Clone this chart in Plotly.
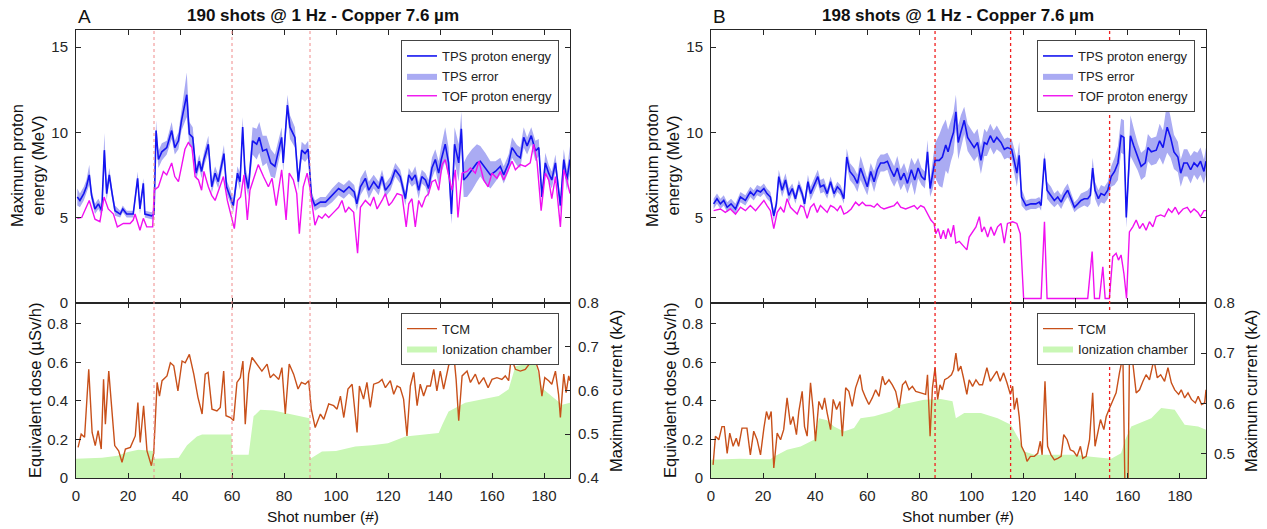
import plotly.graph_objects as go

# ---------------- data ----------------
X_TICKS = [0, 20, 40, 60, 80, 100, 120, 140, 160, 180]
E_TICKS = [0, 5, 10, 15]
DOSE_TICKS = [0, 0.2, 0.4, 0.6, 0.8]
CUR_TICKS_A = [0.4, 0.5, 0.6, 0.7, 0.8]
CUR_TICKS_B = [0.5, 0.6, 0.7, 0.8]
MARKERS_A = [30, 60, 90]
MARKERS_B = [86, 115, 153]
TITLE_A = "190 shots @ 1 Hz - Copper 7.6 µm"
TITLE_B = "198 shots @ 1 Hz - Copper 7.6 µm"

# (shot, TPS energy MeV, TPS error MeV)
TPS_A = [(0.5,6.2,0.5),(1.5,6.0,0.4),(3,6.4,0.4),(4,6.8,0.4),(5.1,7.5,0.6),(6,6.3,0.3),(7.3,5.5,0.3),(8.6,5.8,0.3),(9.9,5.4,0.3),(10.9,8.95,1.0),(11.8,6.4,0.4),(12.8,7.5,0.4),(14,6.3,0.3),(15,5.4,0.3),(17,5.2,0.2),(18,5.5,0.2),(19.5,5.2,0.2),(22,5.2,0.2),(23.7,7.3,0.4),(24.6,5.5,0.3),(25.9,7.0,0.3),(26.5,5.2,0.2),(29.1,5.1,0.2),(30,5.2,0.3),(30.8,10.1,0.6),(31.7,8.4,0.5),(33,8.85,0.5),(34.9,9.1,0.4),(36.8,10.1,0.5),(38,9.1,0.4),(39.4,9.5,0.5),(40.6,10.7,0.6),(42.6,12.2,1.3),(43.6,9.9,0.7),(44.9,9.7,0.6),(46.2,7.6,0.4),(47.4,8.3,0.4),(48.3,7.7,0.4),(49.2,8.4,0.4),(50.9,9.3,0.5),(52.2,6.8,0.4),(53.5,7.6,0.4),(54.7,7.1,0.4),(56.9,8.75,0.5),(57.9,6.8,0.4),(59.2,6.3,0.4),(60.5,5.7,0.4),(62.1,7.6,0.4),(63.1,7.1,0.5),(64.1,10.3,0.6),(65,7.6,0.5),(66.3,6.7,0.5),(67.9,9.5,0.8),(69.5,9.3,0.9),(70.5,9.7,0.9),(71.8,8.9,0.9),(73.3,9.0,0.8),(74.9,8.2,0.8),(76.5,8.0,0.7),(79.1,9.7,0.6),(79.7,8.2,0.5),(81.3,11.6,0.6),(82.3,10.3,0.7),(84.2,9.7,0.6),(85.5,7.1,0.5),(86.8,8.95,0.5),(88.1,8.75,0.5),(89.3,9.0,0.5),(90.6,6.2,0.3),(91.9,5.7,0.3),(94,5.9,0.3),(96,5.9,0.3),(98.5,6.3,0.4),(101,6.7,0.4),(103,6.5,0.4),(105,6.8,0.4),(107,6.5,0.4),(108,5.8,0.4),(109.4,6.8,0.5),(111.3,7.3,0.5),(112.6,6.6,0.5),(114.5,7.1,0.4),(116.4,6.7,0.4),(117.7,7.4,0.4),(119,6.6,0.4),(121,7.0,0.4),(122.8,7.8,0.4),(124.7,7.4,0.4),(126.7,6.1,0.4),(128,7.5,0.4),(129.2,7.2,0.4),(130.5,7.5,0.5),(131.8,6.6,0.5),(133,7.4,0.4),(134.4,7.2,0.4),(135.6,6.7,0.5),(136.9,7.9,0.6),(138.2,8.4,0.6),(139.5,7.6,0.7),(140.5,8.4,0.8),(142,9.3,1.0),(143.3,8.2,0.9),(144.4,5.2,0.6),(145.6,9.3,1.0),(147.2,8.2,1.1),(148.2,10.2,1.0),(149.1,7.2,1.0),(150.4,7.4,1.2),(152.3,7.8,1.2),(154.2,8.2,1.1),(155.5,8.3,0.9),(157.4,7.9,0.9),(159.4,7.5,0.8),(161.3,7.7,0.6),(163.2,8.0,0.5),(164.5,7.5,0.5),(166.4,8.2,0.5),(167.7,9.1,0.6),(169.6,8.65,0.6),(170.9,8.5,0.6),(172.2,9.7,0.6),(173.5,9.2,0.5),(175.1,9.8,0.5),(176.7,8.9,0.6),(178,9.1,0.5),(179.2,6.2,0.4),(180.5,8.2,0.6),(181.8,7.6,0.5),(183,7.2,0.5),(184.4,8.2,0.5),(186.3,5.7,0.4),(187.6,8.4,0.6),(188.8,7.2,0.6),(190,8.4,0.8)]

# (shot, TOF energy MeV)
TOF_A = [(0.5,4.95),(2.2,5.0),(5.1,6.0),(7.3,4.9),(9.2,4.75),(10.8,6.2),(12.4,5.5),(14.4,5.2),(15.9,4.45),(18.2,4.65),(20.8,4.65),(22,4.85),(22.7,5.2),(24.6,4.25),(25.9,4.95),(27.2,4.45),(29.5,4.45),(30.1,6.6),(31.7,6.8),(33.6,7.7),(34.9,7.5),(36.8,8.2),(38,7.4),(39.4,7.1),(40.6,8.0),(41.9,9.0),(43.2,9.4),(44.6,9.1),(45.8,7.4),(47.1,7.2),(48.3,6.6),(49.2,7.7),(50.9,6.8),(52.2,6.3),(53.5,6.0),(55.4,6.8),(56.7,7.4),(58.2,6.0),(59.2,5.4),(60.9,4.35),(62.1,6.0),(63.3,6.2),(64.6,7.5),(65.9,4.85),(66.9,6.6),(68.2,7.2),(70.1,8.1),(72.1,7.4),(74,6.8),(75.4,7.3),(77,5.7),(79.1,7.8),(80.8,4.85),(82,7.6),(83.6,7.2),(84.9,6.4),(85.9,4.05),(87.4,6.8),(88.9,7.6),(89.9,6.8),(91.9,4.55),(93.3,5.1),(94.6,4.95),(95.9,5.2),(97.2,5.0),(99.1,5.3),(101,5.6),(102.3,6.0),(103.6,5.3),(104.9,5.6),(106.8,5.3),(108.3,2.9),(109.4,5.6),(111.3,6.0),(113.2,5.7),(114.5,6.2),(115.8,5.5),(117.7,6.0),(119,6.4),(120.3,5.7),(121.5,5.9),(123.5,6.4),(125.4,6.3),(127,4.45),(128,5.8),(129.2,6.1),(130.5,4.45),(131.8,6.0),(133,5.6),(134.4,6.2),(135.6,6.4),(136.9,7.1),(138.2,7.2),(139.5,6.6),(140.8,8.1),(142,8.4),(143.3,7.5),(144.6,6.6),(145.9,7.8),(146.9,5.0),(148.5,7.6),(150.4,7.7),(151.7,7.9),(153.6,7.6),(155,8.3),(156.8,7.2),(158.5,6.8),(160,7.6),(161.9,7.3),(163.2,7.7),(164.5,7.2),(166.4,7.8),(167.7,8.3),(169,7.8),(170.9,8.1),(172.8,8.0),(174.7,8.2),(176,9.3),(177.3,8.3),(178.9,5.4),(180.5,7.6),(181.8,7.2),(183,6.1),(184.4,7.4),(186.3,4.45),(187.6,7.8),(188.8,7.2),(190,6.4)]

# (shot, TCM maximum current kA)
TCM_A = [(0.8,0.47),(2,0.50),(3.3,0.493),(4.9,0.648),(6.2,0.504),(7.4,0.474),(8.5,0.508),(9.7,0.466),(10.6,0.625),(11.3,0.523),(12.6,0.644),(13.6,0.565),(14.9,0.474),(16.4,0.462),(17.7,0.436),(19,0.466),(20.9,0.47),(22.8,0.496),(23.8,0.572),(24.7,0.481),(26,0.565),(27.3,0.462),(29,0.428),(29.9,0.458),(31.2,0.618),(32.1,0.587),(33.1,0.622),(35,0.633),(36.3,0.663),(37.6,0.656),(39.2,0.599),(40.8,0.667),(42,0.663),(43.6,0.682),(45.3,0.637),(46.9,0.584),(48.5,0.546),(49.7,0.637),(50.8,0.641),(52.3,0.557),(54.2,0.553),(55.5,0.561),(56.8,0.644),(57.7,0.542),(59.4,0.538),(60.6,0.531),(61.9,0.618),(63.2,0.629),(64.2,0.667),(65.1,0.523),(66.4,0.637),(67.7,0.675),(69.6,0.66),(71.5,0.644),(73.5,0.66),(74.7,0.629),(76,0.637),(78,0.625),(79.2,0.652),(80.5,0.546),(82,0.66),(83.7,0.637),(85.4,0.603),(86.7,0.618),(88.2,0.614),(89.5,0.622),(90.5,0.557),(92,0.515),(94,0.546),(95.3,0.534),(97.2,0.569),(99.1,0.565),(100.4,0.557),(101.7,0.587),(103,0.538),(104.6,0.603),(106.2,0.614),(107.2,0.557),(108.1,0.504),(109,0.61),(110.6,0.58),(111.9,0.618),(113.2,0.561),(114.5,0.614),(116.4,0.618),(117.7,0.625),(119,0.606),(120.9,0.622),(122.2,0.591),(123.5,0.61),(124.7,0.606),(126,0.58),(127.3,0.496),(128.6,0.61),(129.9,0.641),(131.2,0.565),(132.4,0.614),(133.7,0.587),(135,0.61),(136.3,0.61),(137.6,0.648),(138.8,0.599),(140.1,0.644),(141.4,0.603),(143.3,0.656),(145.3,0.682),(146.2,0.625),(147.2,0.531),(148.5,0.633),(150.4,0.644),(151.7,0.618),(153.6,0.637),(155,0.614),(156.8,0.629),(158.5,0.606),(160,0.625),(161.9,0.629),(163.8,0.625),(165.1,0.633),(166.4,0.622),(167.4,0.675),(169,0.648),(170.9,0.644),(172.8,0.648),(174.7,0.663),(176.7,0.667),(178,0.644),(179.2,0.587),(180.3,0.629),(181.8,0.622),(183,0.614),(184.4,0.644),(185.6,0.591),(186.3,0.538),(187.6,0.637),(188.5,0.595),(189.5,0.633),(190,0.622)]

# (shot, ionization chamber dose uSv/h)
IC_A = [(0,0.10),(10,0.105),(16,0.115),(20,0.135),(24,0.146),(29.9,0.14),(30.1,0.10),(39.5,0.105),(42.7,0.17),(46.5,0.215),(48.5,0.225),(59.8,0.225),(60.1,0.12),(66.4,0.12),(68.3,0.32),(70.9,0.354),(76,0.35),(80.5,0.337),(89.8,0.31),(90.1,0.10),(94.6,0.137),(100,0.14),(107.4,0.163),(113.8,0.17),(120,0.18),(126.7,0.215),(139.5,0.233),(141,0.28),(143.3,0.345),(149.7,0.39),(162.6,0.425),(166.4,0.46),(169,0.58),(176.7,0.60),(179.2,0.467),(183,0.424),(187,0.38),(190,0.39)]

TPS_B = [(1,5.8,0.3),(2.3,6.1,0.3),(3.6,5.8,0.3),(4.9,6.0,0.3),(6.2,5.6,0.3),(7.7,5.8,0.3),(9.4,5.5,0.3),(11.3,6.2,0.3),(13.2,6.0,0.3),(15.1,6.5,0.3),(16.4,6.3,0.3),(17.7,6.6,0.3),(19,6.5,0.3),(20.3,6.7,0.3),(21.5,6.4,0.3),(22.8,6.2,0.3),(24.1,5.1,0.3),(25.1,5.8,0.3),(26,7.4,0.4),(27.3,6.6,0.4),(28.6,7.2,0.4),(29.9,6.3,0.4),(31.2,6.7,0.3),(32.4,6.1,0.3),(33.7,6.9,0.3),(35,6.4,0.3),(35.9,5.8,0.3),(37.2,7.1,0.4),(38.2,6.4,0.4),(39.5,6.9,0.4),(41,7.4,0.4),(42,6.8,0.4),(43.3,6.9,0.4),(44.6,6.4,0.3),(45.9,7.1,0.3),(47.2,6.4,0.3),(48.5,6.8,0.3),(49.7,6.6,0.3),(51,6.1,0.3),(52.1,8.55,0.5),(53.3,7.7,0.5),(54.9,7.4,0.5),(56.2,7.0,0.5),(57.4,7.9,0.7),(58.7,7.4,0.6),(60,6.8,0.5),(61.3,7.7,0.5),(62.6,7.1,0.6),(63.8,7.8,0.6),(65.1,8.2,0.5),(66.4,8.2,0.5),(67.7,8.3,0.5),(69,7.8,0.6),(70.3,7.4,0.6),(71.5,7.9,0.7),(72.8,7.2,0.6),(74.1,7.6,0.6),(75.4,7.0,0.6),(76.9,7.8,0.7),(78.2,7.2,0.9),(79.5,7.9,0.6),(80.8,7.4,0.5),(82.1,7.2,0.5),(83.1,8.85,0.7),(84.1,6.7,0.5),(85,7.4,0.8),(86,8.35,1.0),(87.6,8.35,1.5),(88.8,8.55,1.8),(90.1,9.25,1.5),(91,8.85,1.3),(92.1,9.5,1.2),(93.1,10.0,1.2),(94,11.2,1.0),(94.9,9.4,1.0),(95.9,10.0,1.0),(97.2,10.7,0.8),(98.5,9.7,0.8),(99.7,9.4,0.8),(101,9.1,0.8),(102.3,9.4,0.8),(103.6,8.35,0.8),(104.9,9.4,0.8),(105.9,9.3,0.7),(107.2,9.8,0.7),(108.5,9.4,0.7),(109.7,9.7,0.7),(111.3,9.4,0.6),(112.6,9.0,0.6),(113.8,9.1,0.6),(115.4,9.0,0.6),(116.4,8.35,0.7),(117.4,7.6,0.8),(118.3,8.65,0.8),(119.2,6.2,0.5),(120.9,5.7,0.3),(122.8,5.8,0.3),(124.7,5.8,0.3),(126,5.9,0.3),(126.7,5.7,0.3),(128,8.45,0.4),(129,6.6,0.5),(130.5,6.3,0.5),(131.8,6.0,0.4),(133.1,6.2,0.4),(134.4,5.9,0.4),(135.6,6.3,0.4),(136.9,6.6,0.4),(138.2,6.1,0.4),(139.5,5.6,0.3),(140.8,5.8,0.3),(142,6.0,0.4),(143.3,6.1,0.4),(144.6,6.1,0.5),(145.6,6.3,0.5),(146.5,7.9,0.6),(147.4,6.6,0.5),(148.7,6.1,0.5),(149.7,6.4,0.5),(151,6.3,0.5),(152.3,6.6,0.5),(153.6,7.4,0.6),(154.9,7.7,0.8),(156.2,8.2,1.0),(157.4,9.8,1.0),(158.5,9.7,1.0),(159.4,5.0,0.6),(160.3,8.0,1.0),(161,9.8,1.2),(162.3,9.2,1.0),(163.8,8.55,0.8),(165.1,8.0,0.8),(166.7,8.2,0.8),(167.7,9.1,0.8),(169,8.85,0.8),(170.9,8.95,0.8),(172.2,9.5,1.0),(173.5,9.1,1.0),(175.1,10.3,1.5),(176.4,9.7,1.2),(177.7,8.85,1.0),(179.2,8.55,0.9),(180.3,7.6,0.8),(181.5,8.2,0.8),(182.8,8.2,0.8),(184.1,7.8,0.8),(185.4,8.2,0.7),(186.7,8.0,0.8),(187.9,8.3,0.8),(189.2,7.7,0.7),(190,8.3,0.8)]

TOF_B = [(1,5.4),(3.6,5.5),(5.5,5.3),(7.4,5.5),(9.4,5.2),(11.3,5.6),(13.2,5.4),(15.1,5.7),(17.1,5.4),(19,5.8),(20.3,6.0),(21.5,5.7),(22.8,5.4),(24.1,4.35),(25.4,5.3),(26.7,5.6),(28,5.3),(29.2,6.1),(30.5,5.6),(31.8,5.4),(33.1,5.2),(34.4,5.7),(35.6,5.6),(36.9,4.95),(38.2,5.6),(39.5,5.8),(40.8,5.3),(42,5.7),(43.3,5.5),(44.6,5.3),(45.9,5.7),(47.2,5.6),(48.5,5.4),(49.7,5.7),(51,5.2),(52.3,5.3),(53.8,5.5),(55.5,5.9),(56.8,5.7),(58.1,5.9),(59.4,5.7),(61.3,5.7),(62.6,5.6),(63.8,5.8),(65.1,5.6),(66.4,5.5),(68.3,5.6),(70.3,5.7),(71.5,5.9),(72.8,5.6),(74.7,5.5),(76.7,5.6),(78,5.7),(79.2,5.5),(80.5,5.7),(81.8,5.6),(83.1,5.2),(84.4,4.85),(85.6,4.65),(86.3,4.05),(87.2,4.35),(88.2,3.75),(89.2,4.25),(90.1,3.75),(91,4.35),(92.1,3.85),(93.1,4.55),(94,3.5),(95.3,3.6),(96.5,3.4),(98.2,3.1),(99.1,3.85),(100.4,4.15),(101.7,4.45),(103,5.05),(103.9,4.15),(104.9,4.45),(106.2,3.85),(107.4,4.45),(108.7,3.95),(110,4.45),(111.3,4.65),(112.6,3.5),(113.8,4.65),(115.8,4.75),(117.4,4.65),(118.7,4.05),(120,0.25),(126.7,0.25),(128,4.75),(129,0.25),(144.6,0.25),(146.3,3.0),(147.2,0.25),(149.1,0.25),(150.4,2.1),(151.3,0.25),(152.9,0.25),(154.2,2.7),(155.5,2.9),(156.4,2.5),(157.4,2.8),(158.5,1.7),(159.5,0.25),(160.6,4.15),(161.9,4.45),(163.2,4.85),(164.5,4.35),(165.8,4.65),(167,4.25),(168.3,4.75),(169.6,4.45),(170.9,5.05),(172.6,5.15),(174.1,5.05),(175.6,5.5),(176.9,5.3),(178.2,5.6),(179.5,5.2),(181.2,5.5),(182.8,5.6),(184.1,5.3),(185.4,5.5),(186.9,5.3),(187.9,5.05),(189.2,5.4),(190,5.4)]

TCM_B = [(0.8,0.478),(1.7,0.535),(3,0.528),(4.2,0.554),(5.1,0.554),(6.2,0.501),(7.2,0.541),(8.5,0.515),(9.7,0.531),(10.6,0.515),(11.9,0.551),(13.8,0.551),(15.1,0.498),(16.4,0.545),(17.7,0.528),(19,0.498),(20.3,0.551),(21.3,0.584),(22.2,0.568),(23.1,0.584),(24.1,0.472),(25.4,0.541),(26.7,0.528),(27.9,0.548),(29.2,0.611),(30.5,0.558),(31.5,0.574),(32.8,0.538),(33.7,0.584),(35,0.624),(35.9,0.554),(36.9,0.535),(38.2,0.641),(39.2,0.588),(40.1,0.525),(41.4,0.604),(42.7,0.588),(43.6,0.611),(44.6,0.581),(45.9,0.548),(46.9,0.608),(48.2,0.588),(49.5,0.604),(50.4,0.535),(51.7,0.631),(52.9,0.624),(54.2,0.594),(55.5,0.631),(57.2,0.657),(58.1,0.627),(59.4,0.611),(60.6,0.598),(61.9,0.611),(63.2,0.627),(64.5,0.614),(65.8,0.654),(66.8,0.637),(68.3,0.647),(69.6,0.637),(70.9,0.624),(72.2,0.591),(73.5,0.637),(74.7,0.644),(76,0.627),(77.3,0.634),(78.6,0.624),(80.5,0.621),(82.4,0.618),(83.1,0.657),(84.1,0.535),(85,0.631),(86,0.671),(87,0.608),(87.9,0.637),(88.8,0.627),(89.7,0.647),(91,0.651),(92.3,0.657),(93.1,0.667),(94,0.700),(94.9,0.664),(95.9,0.674),(96.9,0.651),(98.2,0.618),(99.1,0.647),(100.4,0.634),(101.7,0.647),(103,0.637),(104.2,0.637),(105.9,0.671),(107.2,0.644),(108.5,0.654),(109.7,0.664),(111,0.644),(112.3,0.661),(113.6,0.641),(114.9,0.618),(115.8,0.634),(116.4,0.588),(117.4,0.611),(118.3,0.574),(119.2,0.515),(120.5,0.501),(121.3,0.485),(122.6,0.495),(124.1,0.495),(125.4,0.501),(126.4,0.525),(127.1,0.498),(128.2,0.644),(129.2,0.515),(130.5,0.498),(131.8,0.488),(133.1,0.491),(134.4,0.495),(135.4,0.538),(136.7,0.528),(137.9,0.508),(139.2,0.505),(140.5,0.495),(141.8,0.515),(142.7,0.491),(144,0.495),(145.3,0.528),(146.5,0.621),(147.4,0.515),(148.5,0.541),(149.5,0.568),(150.8,0.548),(151.7,0.574),(153,0.591),(154.2,0.604),(155.5,0.621),(156.8,0.661),(158.1,0.694),(159,0.40),(160,0.40),(160.6,0.684),(161.9,0.681),(163.2,0.621),(164.5,0.627),(165.8,0.644),(167,0.657),(168.3,0.647),(170,0.687),(171.3,0.651),(172.6,0.657),(174.1,0.644),(175.4,0.671),(176.7,0.641),(178,0.627),(179.5,0.618),(180.5,0.627),(181.8,0.611),(183.1,0.621),(184.4,0.608),(185.9,0.601),(187,0.614),(188.3,0.598),(189.5,0.601),(190,0.627)]

IC_B = [(0,0.094),(11,0.10),(22.8,0.097),(24.1,0.11),(29.2,0.146),(34.4,0.163),(39.5,0.198),(41.4,0.31),(44.6,0.30),(47.2,0.267),(51,0.241),(54.9,0.259),(57.4,0.31),(62.6,0.32),(69,0.345),(72.8,0.38),(81.8,0.406),(88.2,0.41),(92.7,0.398),(94,0.31),(97.2,0.337),(103.6,0.337),(110,0.31),(115.1,0.276),(118.3,0.198),(120.3,0.137),(124.1,0.12),(139.5,0.12),(145.9,0.11),(153.6,0.10),(157.4,0.128),(159,0.198),(161.3,0.267),(169,0.31),(172.8,0.363),(178,0.354),(181.8,0.276),(187,0.267),(190,0.25)]

# ---------------- style ----------------
FONT = "Arial, 'Liberation Sans', sans-serif"
AX = "#262626"
C_TPS = "#1414f0"
C_ERR = "#aaabf3"
C_TOF = "#f010f0"
C_TCM = "#c8501a"
C_IC = "#c9f7b5"
W, H = 1267, 529


def px(xp):
    return xp / W


def py(yp):
    return 1 - yp / H


XA = [px(76), px(570)]
XB = [px(711), px(1206)]
Y_TOP = [py(302.7), py(30)]
Y_BOT = [py(478), py(302.7)]

fig = go.Figure()


def add_panel(tps, tof, tcm, ic, xt, yt, xb, yl, yr, lg_top, lg_bot):
    sx = [p[0] for p in tps]
    sy = [p[1] for p in tps]
    up = [p[1] + p[2] for p in tps]
    lo = [p[1] - p[2] for p in tps]
    fig.add_trace(go.Scatter(x=sx + sx[::-1], y=up + lo[::-1], fill="toself",
                             fillcolor=C_ERR, line=dict(width=0), mode="lines",
                             name="TPS error", legend=lg_top, legendrank=2,
                             xaxis=xt, yaxis=yt, hoverinfo="skip"))
    fig.add_trace(go.Scatter(x=sx, y=sy, mode="lines", line=dict(color=C_TPS, width=1.6),
                             name="TPS proton energy", legend=lg_top, legendrank=1,
                             xaxis=xt, yaxis=yt))
    fig.add_trace(go.Scatter(x=[p[0] for p in tof], y=[p[1] for p in tof], mode="lines",
                             line=dict(color=C_TOF, width=1.4),
                             name="TOF proton energy", legend=lg_top, legendrank=3,
                             xaxis=xt, yaxis=yt))
    fig.add_trace(go.Scatter(x=[p[0] for p in ic], y=[p[1] for p in ic], mode="lines",
                             fill="tozeroy", fillcolor=C_IC, line=dict(width=0, color=C_IC),
                             name="Ionization chamber", legend=lg_bot, legendrank=2,
                             xaxis=xb, yaxis=yl))
    fig.add_trace(go.Scatter(x=[p[0] for p in tcm], y=[p[1] for p in tcm], mode="lines",
                             line=dict(color=C_TCM, width=1.4),
                             name="TCM", legend=lg_bot, legendrank=1,
                             xaxis=xb, yaxis=yr))


add_panel(TPS_A, TOF_A, TCM_A, IC_A, "x", "y", "x2", "y2", "y3", "legend", "legend2")
add_panel(TPS_B, TOF_B, TCM_B, IC_B, "x3", "y4", "x4", "y5", "y6", "legend3", "legend4")

common = dict(showgrid=False, zeroline=False, showline=True, linecolor=AX, linewidth=1,
              ticks="inside", ticklen=5, tickcolor=AX, tickwidth=1, automargin=False,
              ticklabelstandoff=4,
              tickfont=dict(family=FONT, size=15, color=AX))


def xaxis(domain, anchor, labels):
    return dict(common, domain=domain, anchor=anchor, range=[0, 190], tickvals=X_TICKS,
                showticklabels=labels, mirror="ticks")


def ytop(anchor):
    return dict(common, domain=Y_TOP, anchor=anchor, range=[0, 16], tickvals=E_TICKS,
                mirror="ticks")


def yleft(anchor):
    return dict(common, domain=Y_BOT, anchor=anchor, range=[0, 0.909], tickvals=DOSE_TICKS,
                ticktext=[("%g" % v) for v in DOSE_TICKS])


def yright(anchor, over, rng, ticks):
    return dict(common, anchor=anchor, overlaying=over, side="right", range=rng,
                tickvals=ticks, ticktext=[("%g" % v) for v in ticks])


legend_common = dict(bgcolor="white", bordercolor="#444", borderwidth=1,
                     font=dict(family=FONT, size=13, color="#222"),
                     xanchor="right", yanchor="top", tracegroupgap=0,
                     traceorder="normal")

fig.update_layout(
    width=W, height=H, margin=dict(l=0, r=0, t=0, b=0, autoexpand=False),
    paper_bgcolor="white", plot_bgcolor="rgba(0,0,0,0)",
    font=dict(family=FONT, color=AX),
    xaxis=xaxis(XA, "y", False), yaxis=ytop("x"),
    xaxis2=xaxis(XA, "y2", True), yaxis2=yleft("x2"),
    yaxis3=yright("x2", "y2", [0.4, 0.8], CUR_TICKS_A),
    xaxis3=xaxis(XB, "y4", False), yaxis4=ytop("x3"),
    xaxis4=xaxis(XB, "y5", True), yaxis5=yleft("x4"),
    yaxis6=yright("x4", "y5", [0.452, 0.8], CUR_TICKS_B),
    legend=dict(legend_common, x=px(559), y=py(40)),
    legend2=dict(legend_common, x=px(559), y=py(312.7)),
    legend3=dict(legend_common, x=px(1195), y=py(40)),
    legend4=dict(legend_common, x=px(1195), y=py(312.7)),
    showlegend=True,
)

shapes = []
for m in MARKERS_A:
    shapes.append(dict(type="line", xref="x", yref="paper", x0=m, x1=m, y0=py(478), y1=py(30),
                       line=dict(color="#f08a8a", width=1, dash="dot"), layer="above"))
for m in MARKERS_B:
    shapes.append(dict(type="line", xref="x3", yref="paper", x0=m, x1=m, y0=py(478), y1=py(30),
                       line=dict(color="#f02020", width=1.3, dash="dot"), layer="above"))
fig.update_layout(shapes=shapes)

ann = []


def txt(x, y, s, size=15, angle=0, bold=False, xanchor="center"):
    ann.append(dict(xref="paper", yref="paper", x=px(x), y=py(y),
                    text=("<b>%s</b>" % s) if bold else s,
                    showarrow=False, textangle=angle, xanchor=xanchor, yanchor="middle",
                    font=dict(family=FONT, size=size, color="#111")))


txt(76, 17, "A", size=19, xanchor="left")
txt(711, 17, "B", size=19, xanchor="left")
txt(323, 16, TITLE_A, size=17, bold=True)
txt(958, 16, TITLE_B, size=17, bold=True)
for xo in (0, 635):
    txt(27 + xo, 166, "Maximum proton<br>energy (MeV)", size=16.5, angle=-90)
    txt(35 + xo, 390, "Equivalent dose (µSv/h)", size=16.5, angle=-90)
    txt(323 + xo, 516, "Shot number (#)", size=15.5)
txt(616, 391, "Maximum current (kA)", size=16.5, angle=-90)
txt(1251, 391, "Maximum current (kA)", size=16.5, angle=-90)
fig.update_layout(annotations=ann)

fig.write_html("out.html", config={"displayModeBar": False},
               post_script="document.body.style.margin='0';document.body.style.overflow='hidden';")
